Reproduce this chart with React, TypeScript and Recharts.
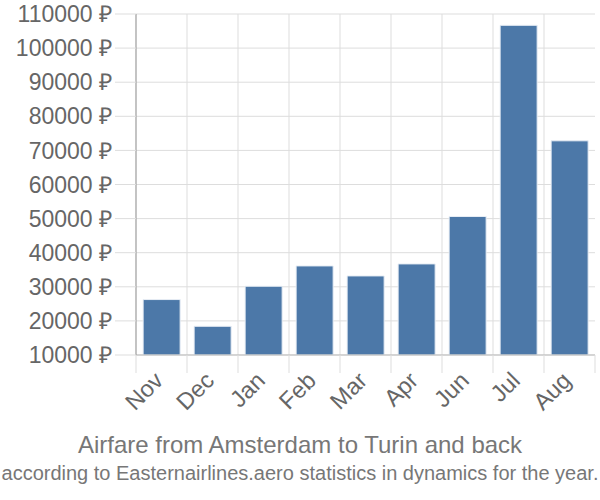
import { BarChart, Bar, XAxis, YAxis, CartesianGrid } from "recharts";

const months = ["Nov", "Dec", "Jan", "Feb", "Mar", "Apr", "Jun", "Jul", "Aug"];
const prices = [26260, 18420, 30160, 36120, 33190, 36710, 50620, 106680, 72810];
const yTicks = [10000, 20000, 30000, 40000, 50000, 60000, 70000, 80000, 90000, 100000, 110000];

const data = months.map((m, i) => ({ month: m, price: prices[i] }));

const FONT = '"Liberation Sans", Arial, sans-serif';

function MonthTick(props: any) {
  const { x, y, payload, index } = props;
  const band = 459 / months.length;
  const left = x - band / 2;
  const tx = x + 3;
  const ty = y + 19;
  return (
    <g>
      <line x1={left} y1={y - 8} x2={left} y2={y + 10} stroke="#ddd" />
      {index === months.length - 1 && (
        <line x1={left + band} y1={y - 8} x2={left + band} y2={y + 10} stroke="#ddd" />
      )}
      <text
        x={tx}
        y={ty}
        transform={`rotate(-45, ${tx}, ${ty})`}
        textAnchor="end"
        fill="#666"
        fontSize={23.5}
        fontFamily={FONT}
      >
        {payload.value}
      </text>
    </g>
  );
}

export default function App() {
  return (
    <div style={{ position: "absolute", left: 0, top: 0, width: 600, height: 500, background: "#fff" }}>
      <BarChart
        width={600}
        height={500}
        data={data}
        margin={{ top: 14, right: 5, left: 0, bottom: 0 }}
        barCategoryGap="14%"
      >
        <CartesianGrid
          stroke="#ddd"
          strokeWidth={1}
          verticalCoordinatesGenerator={({ offset }: any) =>
            months.map((_, i) => offset.left + (i * offset.width) / months.length)
          }
        />
        <XAxis
          dataKey="month"
          height={145}
          axisLine={{ stroke: "#bbb" }}
          tickLine={false}
          interval={0}
          tick={<MonthTick />}
        />
        <YAxis
          width={136}
          domain={[10000, 110000]}
          ticks={yTicks}
          interval={0}
          allowDataOverflow
          tickFormatter={(v: number) => `${v} ₽`}
          tick={{ fill: "#666", fontSize: 23, fontFamily: FONT }}
          tickSize={21}
          tickMargin={3}
          tickLine={{ stroke: "#ddd" }}
          axisLine={{ stroke: "#999" }}
        />
        <Bar dataKey="price" fill="#4c78a8" stroke="#e8eef5" strokeWidth={1} isAnimationActive={false} />
      </BarChart>
      <div
        style={{
          position: "absolute",
          left: 0,
          top: 431,
          width: 600,
          textAlign: "center",
          fontFamily: FONT,
          fontSize: 24,
          color: "#777",
          whiteSpace: "nowrap",
        }}
      >
        Airfare from Amsterdam to Turin and back
      </div>
      <div
        style={{
          position: "absolute",
          left: 0,
          top: 462,
          width: 600,
          textAlign: "center",
          fontFamily: FONT,
          fontSize: 20,
          color: "#777",
          whiteSpace: "nowrap",
        }}
      >
        according to Easternairlines.aero statistics in dynamics for the year.
      </div>
    </div>
  );
}
